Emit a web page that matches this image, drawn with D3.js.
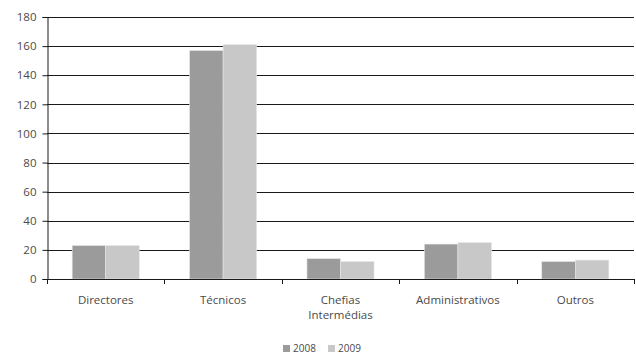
<!DOCTYPE html>
<html>
<head>
<meta charset="utf-8">
<script src="https://cdn.jsdelivr.net/npm/d3@7"></script>
<style>
  html, body { margin: 0; padding: 0; background: #fff; }
  svg text { font-family: "Open Sans", sans-serif; fill: #4a4a4a; }
</style>
</head>
<body>
<svg id="chart" width="636" height="356"></svg>
<script>
// Staff counts per category, 2008 vs 2009
const categories = [["Directores"], ["Técnicos"], ["Chefias", "Intermédias"], ["Administrativos"], ["Outros"]];
const seriesNames = ["2008", "2009"];
const values2008 = [23, 157, 14, 24, 12];
const values2009 = [23, 161, 12, 25, 13];
const yTicks = [0, 20, 40, 60, 80, 100, 120, 140, 160, 180];

const colors = { "2008": "#9b9b9b", "2009": "#c8c8c8" };

const svg = d3.select("#chart");
const margin = { left: 47, right: 2, top: 17, bottom: 77 };
const W = 636, H = 356;
const x0 = margin.left, x1 = W - margin.right;
const y0 = H - margin.bottom, y1 = margin.top;

const catKeys = categories.map(c => c.join(" "));
const x = d3.scaleBand().domain(catKeys).range([x0, x1]).paddingInner(0).paddingOuter(0);
const xs = d3.scaleBand().domain(seriesNames).range([0, x.bandwidth()]).paddingInner(0).paddingOuter(0.75);
const y = d3.scaleLinear().domain([0, 180]).range([y0, y1]);

// horizontal gridlines
svg.append("g").selectAll("line").data(yTicks.filter(t => t > 0)).join("line")
  .attr("x1", x0).attr("x2", x1)
  .attr("y1", d => Math.round(y(d)) + 0.5).attr("y2", d => Math.round(y(d)) + 0.5)
  .attr("stroke", "#1a1a1a").attr("stroke-width", 1);

// bars
const rows = catKeys.map((k, i) => ({ key: k, vals: [values2008[i], values2009[i]] }));
const grp = svg.append("g").selectAll("g").data(rows).join("g")
  .attr("transform", d => `translate(${x(d.key)},0)`);
grp.selectAll("rect").data(d => d.vals.map((v, j) => ({ s: seriesNames[j], v })))
  .join("rect")
  .attr("x", d => xs(d.s))
  .attr("width", xs.bandwidth())
  .attr("y", d => y(d.v))
  .attr("height", d => y(0) - y(d.v))
  .attr("fill", d => colors[d.s])
  .attr("stroke", "#e6e6e6").attr("stroke-width", 0.6);

// y axis
const yAxis = d3.axisLeft(y).tickValues(yTicks).tickSize(5).tickPadding(6);
const gy = svg.append("g").attr("transform", `translate(${x0 + 0.5},0)`).call(yAxis);
gy.select(".domain").attr("stroke", "#1a1a1a");
gy.selectAll(".tick line").attr("stroke", "#1a1a1a");
gy.selectAll(".tick text").style("font-size", "11.5px").attr("fill", "#4a4a4a");

// x axis with boundary ticks between categories
const gx = svg.append("g");
gx.append("line").attr("x1", x0).attr("x2", x1)
  .attr("y1", Math.round(y0) + 0.5).attr("y2", Math.round(y0) + 0.5)
  .attr("stroke", "#1a1a1a");
const bounds = catKeys.map(k => x(k)).concat([x1]);
gx.selectAll("line.tk").data(bounds).join("line").attr("class", "tk")
  .attr("x1", d => Math.round(d) + 0.5).attr("x2", d => Math.round(d) + 0.5)
  .attr("y1", y0).attr("y2", y0 + 5).attr("stroke", "#1a1a1a");

const labels = gx.selectAll("text.cat").data(categories).join("text").attr("class", "cat")
  .attr("x", (d, i) => x(catKeys[i]) + x.bandwidth() / 2)
  .attr("y", y0 + 25)
  .attr("text-anchor", "middle")
  .style("font-size", "11.5px");
labels.selectAll("tspan").data(d => d).join("tspan")
  .attr("x", function () { return d3.select(this.parentNode).attr("x"); })
  .attr("dy", (d, i) => i === 0 ? 0 : 15)
  .text(d => d);

// legend
const legend = svg.append("g").attr("transform", `translate(283,345)`);
const li = legend.selectAll("g").data(seriesNames).join("g")
  .attr("transform", (d, i) => `translate(${i * 45},0)`);
li.append("rect").attr("width", 7).attr("height", 7).attr("fill", d => colors[d]);
li.append("text").attr("x", 10).attr("y", 7).style("font-size", "10px").text(d => d);
</script>
</body>
</html>
